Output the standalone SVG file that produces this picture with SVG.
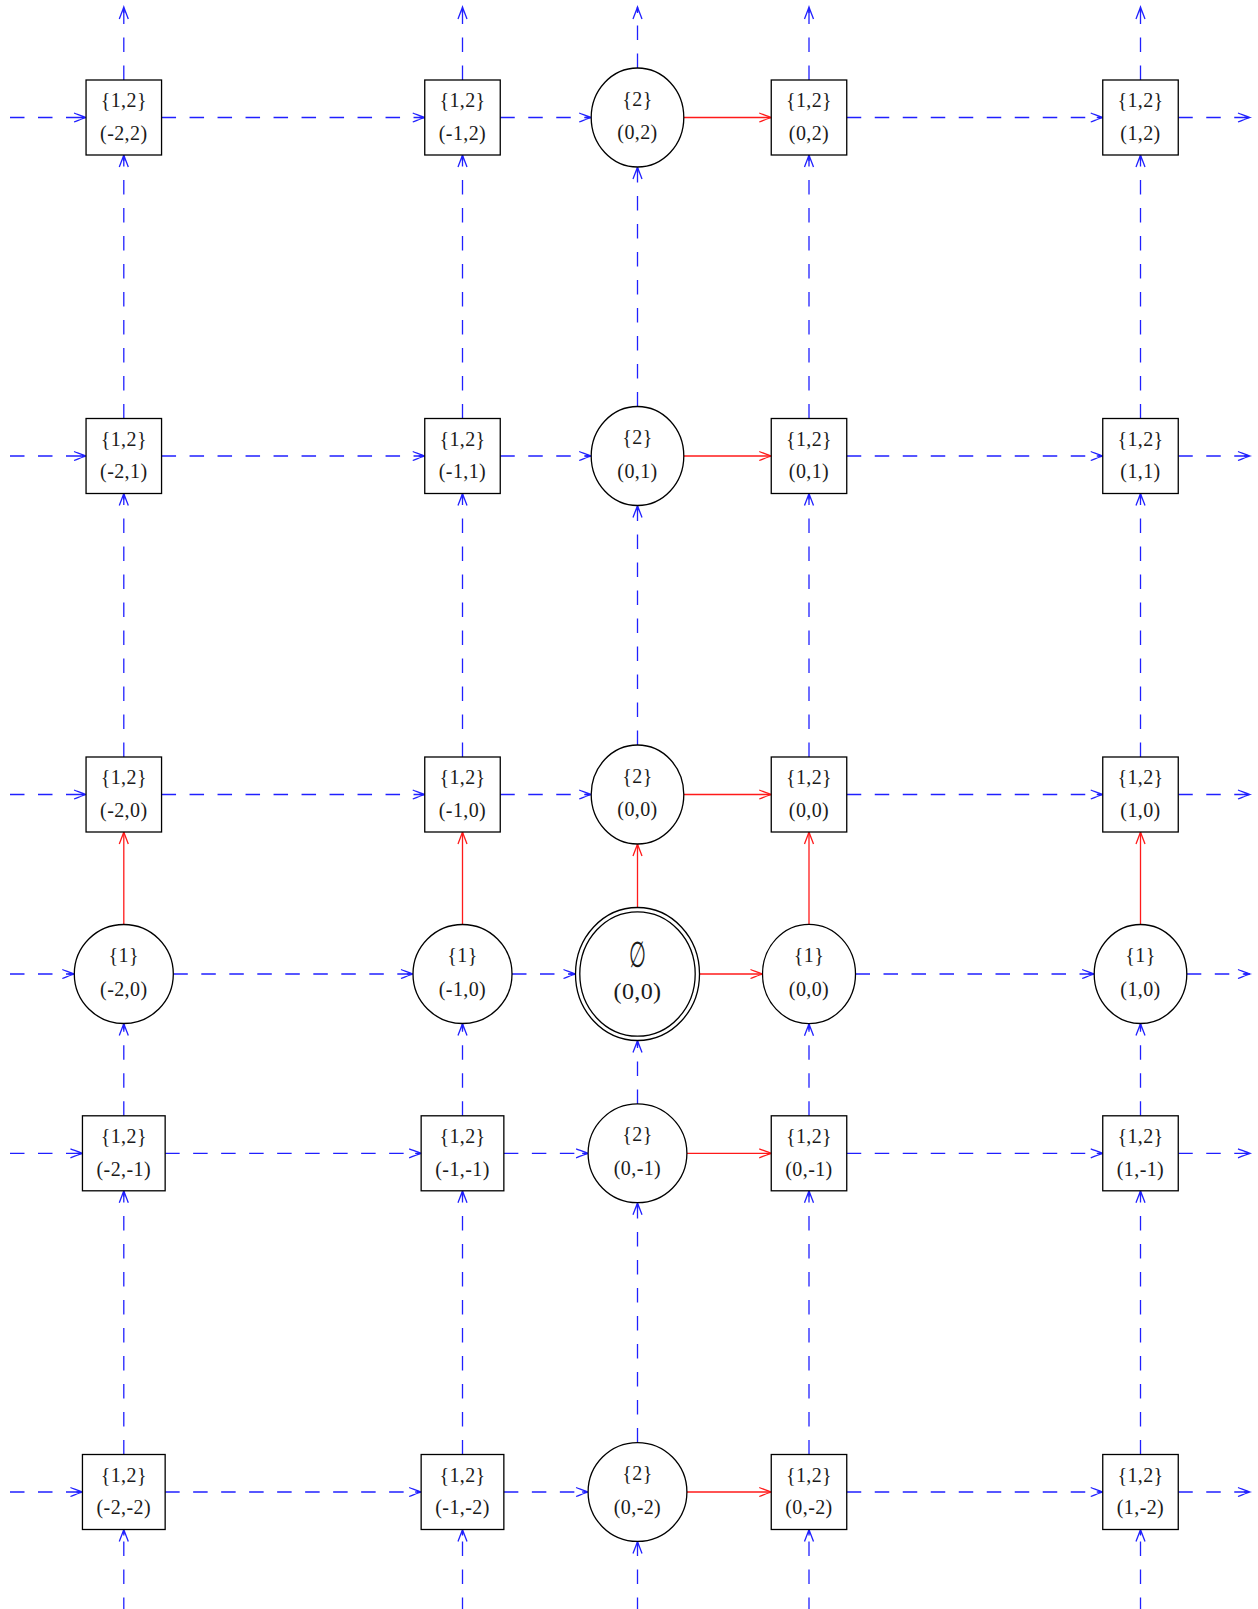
<svg xmlns="http://www.w3.org/2000/svg" width="1258" height="1609" viewBox="0 0 1258 1609">
  <style>
    .bg { fill: #ffffff; }
    .node { fill: #ffffff; stroke: #000000; stroke-width: 1.3; }
    .lbl { font-family: "Liberation Serif", "DejaVu Serif", serif; font-size: 20px; fill: #1a1a1a; text-anchor: middle; letter-spacing: 0.4px; }
    .big { font-size: 24px; }
    .sym { font-family: "DejaVu Serif", "Liberation Serif", serif; font-size: 36px; fill: #1a1a1a; text-anchor: middle; }
    .dash { fill: none; stroke: #2020ff; stroke-width: 1.3; stroke-dasharray: 14.5 13.5; marker-end: url(#arrowBlue); }
    .solid { fill: none; stroke: #ff1a1a; stroke-width: 1.3; marker-end: url(#arrowRed); }
  </style>
  <defs>
    <marker id="arrowBlue" markerUnits="userSpaceOnUse" orient="auto" refX="0" refY="0" markerWidth="16" markerHeight="12" viewBox="-14 -6 16 12" overflow="visible">
      <path d="M -12,-4.5 C -8,-3 -3,-1 0,0 C -3,1 -8,3 -12,4.5 M -6,0 L 0,0" fill="none" stroke="#2020ff" stroke-width="1.3" stroke-dasharray="none"/>
    </marker>
    <marker id="arrowRed" markerUnits="userSpaceOnUse" orient="auto" refX="0" refY="0" markerWidth="16" markerHeight="12" viewBox="-14 -6 16 12" overflow="visible">
      <path d="M -12,-4.5 C -8,-3 -3,-1 0,0 C -3,1 -8,3 -12,4.5" fill="none" stroke="#ff1a1a" stroke-width="1.3" stroke-dasharray="none"/>
    </marker>
  </defs>
  <rect class="bg" x="0" y="0" width="1258" height="1609"/>

  <g id="connectors">
    <!-- row y=2 -->
    <line class="dash" x1="10" y1="117.5" x2="86.05" y2="117.5"/>
    <line class="dash" x1="161.55" y1="117.5" x2="424.75" y2="117.5"/>
    <line class="dash" x1="500.25" y1="117.5" x2="591.2" y2="117.5"/>
    <line class="solid" x1="683.8" y1="117.5" x2="771.25" y2="117.5"/>
    <line class="dash" x1="846.75" y1="117.5" x2="1102.75" y2="117.5"/>
    <line class="dash" x1="1178.25" y1="117.5" x2="1250" y2="117.5"/>
    <!-- row y=1 -->
    <line class="dash" x1="10" y1="456" x2="86.05" y2="456"/>
    <line class="dash" x1="161.55" y1="456" x2="424.75" y2="456"/>
    <line class="dash" x1="500.25" y1="456" x2="591.2" y2="456"/>
    <line class="solid" x1="683.8" y1="456" x2="771.25" y2="456"/>
    <line class="dash" x1="846.75" y1="456" x2="1102.75" y2="456"/>
    <line class="dash" x1="1178.25" y1="456" x2="1250" y2="456"/>
    <!-- row y=0, second component -->
    <line class="dash" x1="10" y1="794.5" x2="86.05" y2="794.5"/>
    <line class="dash" x1="161.55" y1="794.5" x2="424.75" y2="794.5"/>
    <line class="dash" x1="500.25" y1="794.5" x2="591.2" y2="794.5"/>
    <line class="solid" x1="683.8" y1="794.5" x2="771.25" y2="794.5"/>
    <line class="dash" x1="846.75" y1="794.5" x2="1102.75" y2="794.5"/>
    <line class="dash" x1="1178.25" y1="794.5" x2="1250" y2="794.5"/>
    <!-- row y=0, first component -->
    <line class="dash" x1="10" y1="974" x2="74.3" y2="974"/>
    <line class="dash" x1="173.3" y1="974" x2="413" y2="974"/>
    <line class="dash" x1="512" y1="974" x2="575.5" y2="974"/>
    <line class="solid" x1="699.5" y1="974" x2="762.5" y2="974"/>
    <line class="dash" x1="855.5" y1="974" x2="1094.2" y2="974"/>
    <line class="dash" x1="1186.8" y1="974" x2="1250" y2="974"/>
    <!-- row y=-1 -->
    <line class="dash" x1="10" y1="1153.3" x2="82.45" y2="1153.3"/>
    <line class="dash" x1="165.15" y1="1153.3" x2="421.15" y2="1153.3"/>
    <line class="dash" x1="503.85" y1="1153.3" x2="588.1" y2="1153.3"/>
    <line class="solid" x1="686.9" y1="1153.3" x2="771.25" y2="1153.3"/>
    <line class="dash" x1="846.75" y1="1153.3" x2="1102.75" y2="1153.3"/>
    <line class="dash" x1="1178.25" y1="1153.3" x2="1250" y2="1153.3"/>
    <!-- row y=-2 -->
    <line class="dash" x1="10" y1="1492" x2="82.45" y2="1492"/>
    <line class="dash" x1="165.15" y1="1492" x2="421.15" y2="1492"/>
    <line class="dash" x1="503.85" y1="1492" x2="588.1" y2="1492"/>
    <line class="solid" x1="686.9" y1="1492" x2="771.25" y2="1492"/>
    <line class="dash" x1="846.75" y1="1492" x2="1102.75" y2="1492"/>
    <line class="dash" x1="1178.25" y1="1492" x2="1250" y2="1492"/>

    <!-- column x=-2 -->
    <line class="dash" x1="123.8" y1="80" x2="123.8" y2="7"/>
    <line class="dash" x1="123.8" y1="418.5" x2="123.8" y2="155"/>
    <line class="dash" x1="123.8" y1="757" x2="123.8" y2="493.5"/>
    <line class="solid" x1="123.8" y1="924.5" x2="123.8" y2="832"/>
    <line class="dash" x1="123.8" y1="1115.8" x2="123.8" y2="1023.5"/>
    <line class="dash" x1="123.8" y1="1454.5" x2="123.8" y2="1190.8"/>
    <line class="dash" x1="123.8" y1="1612" x2="123.8" y2="1529.5"/>
    <!-- column x=-1 -->
    <line class="dash" x1="462.5" y1="80" x2="462.5" y2="7"/>
    <line class="dash" x1="462.5" y1="418.5" x2="462.5" y2="155"/>
    <line class="dash" x1="462.5" y1="757" x2="462.5" y2="493.5"/>
    <line class="solid" x1="462.5" y1="924.5" x2="462.5" y2="832"/>
    <line class="dash" x1="462.5" y1="1115.8" x2="462.5" y2="1023.5"/>
    <line class="dash" x1="462.5" y1="1454.5" x2="462.5" y2="1190.8"/>
    <line class="dash" x1="462.5" y1="1612" x2="462.5" y2="1529.5"/>
    <!-- column x=0, {2} nodes -->
    <line class="dash" x1="637.5" y1="68" x2="637.5" y2="7"/>
    <line class="dash" x1="637.5" y1="406.5" x2="637.5" y2="167"/>
    <line class="dash" x1="637.5" y1="745" x2="637.5" y2="505.5"/>
    <line class="solid" x1="637.5" y1="907.5" x2="637.5" y2="844"/>
    <line class="dash" x1="637.5" y1="1103.9" x2="637.5" y2="1040.5"/>
    <line class="dash" x1="637.5" y1="1442.6" x2="637.5" y2="1202.7"/>
    <line class="dash" x1="637.5" y1="1612" x2="637.5" y2="1541.4"/>
    <!-- column x=0, {1,2} nodes -->
    <line class="dash" x1="809" y1="80" x2="809" y2="7"/>
    <line class="dash" x1="809" y1="418.5" x2="809" y2="155"/>
    <line class="dash" x1="809" y1="757" x2="809" y2="493.5"/>
    <line class="solid" x1="809" y1="924.3" x2="809" y2="832"/>
    <line class="dash" x1="809" y1="1115.8" x2="809" y2="1023.7"/>
    <line class="dash" x1="809" y1="1454.5" x2="809" y2="1190.8"/>
    <line class="dash" x1="809" y1="1612" x2="809" y2="1529.5"/>
    <!-- column x=1 -->
    <line class="dash" x1="1140.5" y1="80" x2="1140.5" y2="7"/>
    <line class="dash" x1="1140.5" y1="418.5" x2="1140.5" y2="155"/>
    <line class="dash" x1="1140.5" y1="757" x2="1140.5" y2="493.5"/>
    <line class="solid" x1="1140.5" y1="924.5" x2="1140.5" y2="832"/>
    <line class="dash" x1="1140.5" y1="1115.8" x2="1140.5" y2="1023.5"/>
    <line class="dash" x1="1140.5" y1="1454.5" x2="1140.5" y2="1190.8"/>
    <line class="dash" x1="1140.5" y1="1612" x2="1140.5" y2="1529.5"/>
  </g>

  <!-- row y=2 -->
  <g id="n-m2-2"><rect class="node" x="86.05" y="80" width="75.5" height="75"/><text class="lbl" x="123.8" y="107">{1,2}</text><text class="lbl" x="123.8" y="139.7">(-2,2)</text></g>
  <g id="n-m1-2"><rect class="node" x="424.75" y="80" width="75.5" height="75"/><text class="lbl" x="462.5" y="107">{1,2}</text><text class="lbl" x="462.5" y="139.7">(-1,2)</text></g>
  <g id="c-0-2"><ellipse class="node" cx="637.5" cy="117.5" rx="46.3" ry="49.5"/><text class="lbl" x="637.5" y="105.5">{2}</text><text class="lbl" x="637.5" y="139">(0,2)</text></g>
  <g id="n-0-2"><rect class="node" x="771.25" y="80" width="75.5" height="75"/><text class="lbl" x="809" y="107">{1,2}</text><text class="lbl" x="809" y="139.7">(0,2)</text></g>
  <g id="n-1-2"><rect class="node" x="1102.75" y="80" width="75.5" height="75"/><text class="lbl" x="1140.5" y="107">{1,2}</text><text class="lbl" x="1140.5" y="139.7">(1,2)</text></g>

  <!-- row y=1 -->
  <g id="n-m2-1"><rect class="node" x="86.05" y="418.5" width="75.5" height="75"/><text class="lbl" x="123.8" y="445.5">{1,2}</text><text class="lbl" x="123.8" y="478.2">(-2,1)</text></g>
  <g id="n-m1-1"><rect class="node" x="424.75" y="418.5" width="75.5" height="75"/><text class="lbl" x="462.5" y="445.5">{1,2}</text><text class="lbl" x="462.5" y="478.2">(-1,1)</text></g>
  <g id="c-0-1"><ellipse class="node" cx="637.5" cy="456" rx="46.3" ry="49.5"/><text class="lbl" x="637.5" y="444">{2}</text><text class="lbl" x="637.5" y="477.5">(0,1)</text></g>
  <g id="n-0-1"><rect class="node" x="771.25" y="418.5" width="75.5" height="75"/><text class="lbl" x="809" y="445.5">{1,2}</text><text class="lbl" x="809" y="478.2">(0,1)</text></g>
  <g id="n-1-1"><rect class="node" x="1102.75" y="418.5" width="75.5" height="75"/><text class="lbl" x="1140.5" y="445.5">{1,2}</text><text class="lbl" x="1140.5" y="478.2">(1,1)</text></g>

  <!-- row y=0, {1,2} / {2} nodes -->
  <g id="n-m2-0"><rect class="node" x="86.05" y="757" width="75.5" height="75"/><text class="lbl" x="123.8" y="784">{1,2}</text><text class="lbl" x="123.8" y="816.7">(-2,0)</text></g>
  <g id="n-m1-0"><rect class="node" x="424.75" y="757" width="75.5" height="75"/><text class="lbl" x="462.5" y="784">{1,2}</text><text class="lbl" x="462.5" y="816.7">(-1,0)</text></g>
  <g id="c-0-0"><ellipse class="node" cx="637.5" cy="794.5" rx="46.3" ry="49.5"/><text class="lbl" x="637.5" y="782.5">{2}</text><text class="lbl" x="637.5" y="816">(0,0)</text></g>
  <g id="n-0-0"><rect class="node" x="771.25" y="757" width="75.5" height="75"/><text class="lbl" x="809" y="784">{1,2}</text><text class="lbl" x="809" y="816.7">(0,0)</text></g>
  <g id="n-1-0"><rect class="node" x="1102.75" y="757" width="75.5" height="75"/><text class="lbl" x="1140.5" y="784">{1,2}</text><text class="lbl" x="1140.5" y="816.7">(1,0)</text></g>

  <!-- row y=0, {1} nodes and the start state -->
  <g id="s-m2-0"><ellipse class="node" cx="123.8" cy="974" rx="49.5" ry="49.5"/><text class="lbl" x="123.8" y="962">{1}</text><text class="lbl" x="123.8" y="995.5">(-2,0)</text></g>
  <g id="s-m1-0"><ellipse class="node" cx="462.5" cy="974" rx="49.5" ry="49.5"/><text class="lbl" x="462.5" y="962">{1}</text><text class="lbl" x="462.5" y="995.5">(-1,0)</text></g>
  <g id="start"><ellipse class="node" cx="637.5" cy="974" rx="62" ry="66.5"/><ellipse class="node" cx="637.5" cy="974" rx="57.7" ry="62.2"/><text class="sym" transform="translate(637.5,967) scale(0.54,1)" x="0" y="0">∅</text><text class="lbl big" x="637.5" y="998.5">(0,0)</text></g>
  <g id="s-0-0"><ellipse class="node" cx="809" cy="974" rx="46.5" ry="49.7"/><text class="lbl" x="809" y="962">{1}</text><text class="lbl" x="809" y="995.5">(0,0)</text></g>
  <g id="s-1-0"><ellipse class="node" cx="1140.5" cy="974" rx="46.3" ry="49.5"/><text class="lbl" x="1140.5" y="962">{1}</text><text class="lbl" x="1140.5" y="995.5">(1,0)</text></g>

  <!-- row y=-1 -->
  <g id="n-m2-m1"><rect class="node" x="82.45" y="1115.8" width="82.7" height="75"/><text class="lbl" x="123.8" y="1142.8">{1,2}</text><text class="lbl" x="123.8" y="1175.5">(-2,-1)</text></g>
  <g id="n-m1-m1"><rect class="node" x="421.15" y="1115.8" width="82.7" height="75"/><text class="lbl" x="462.5" y="1142.8">{1,2}</text><text class="lbl" x="462.5" y="1175.5">(-1,-1)</text></g>
  <g id="c-0-m1"><ellipse class="node" cx="637.5" cy="1153.3" rx="49.4" ry="49.4"/><text class="lbl" x="637.5" y="1141.3">{2}</text><text class="lbl" x="637.5" y="1174.8">(0,-1)</text></g>
  <g id="n-0-m1"><rect class="node" x="771.25" y="1115.8" width="75.5" height="75"/><text class="lbl" x="809" y="1142.8">{1,2}</text><text class="lbl" x="809" y="1175.5">(0,-1)</text></g>
  <g id="n-1-m1"><rect class="node" x="1102.75" y="1115.8" width="75.5" height="75"/><text class="lbl" x="1140.5" y="1142.8">{1,2}</text><text class="lbl" x="1140.5" y="1175.5">(1,-1)</text></g>

  <!-- row y=-2 -->
  <g id="n-m2-m2"><rect class="node" x="82.45" y="1454.5" width="82.7" height="75"/><text class="lbl" x="123.8" y="1481.5">{1,2}</text><text class="lbl" x="123.8" y="1514.2">(-2,-2)</text></g>
  <g id="n-m1-m2"><rect class="node" x="421.15" y="1454.5" width="82.7" height="75"/><text class="lbl" x="462.5" y="1481.5">{1,2}</text><text class="lbl" x="462.5" y="1514.2">(-1,-2)</text></g>
  <g id="c-0-m2"><ellipse class="node" cx="637.5" cy="1492" rx="49.4" ry="49.4"/><text class="lbl" x="637.5" y="1480">{2}</text><text class="lbl" x="637.5" y="1513.5">(0,-2)</text></g>
  <g id="n-0-m2"><rect class="node" x="771.25" y="1454.5" width="75.5" height="75"/><text class="lbl" x="809" y="1481.5">{1,2}</text><text class="lbl" x="809" y="1514.2">(0,-2)</text></g>
  <g id="n-1-m2"><rect class="node" x="1102.75" y="1454.5" width="75.5" height="75"/><text class="lbl" x="1140.5" y="1481.5">{1,2}</text><text class="lbl" x="1140.5" y="1514.2">(1,-2)</text></g>
</svg>
